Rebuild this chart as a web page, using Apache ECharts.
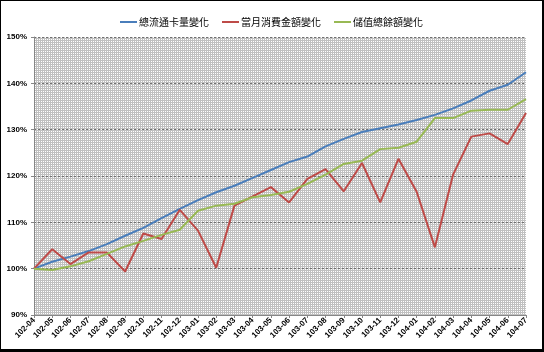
<!DOCTYPE html>
<html>
<head>
    <meta charset="UTF-8">
    <script src="https://cdn.jsdelivr.net/npm/echarts@6/dist/echarts.min.js"></script>
    <style>
        html, body { margin: 0; padding: 0; background: #fff; }
        #main {
            width: 544px; height: 352px; box-sizing: border-box;
            border-left: 1px solid #000; border-top: 1px solid #000;
            border-right: 2px solid #000; border-bottom: 3px solid #000;
        }
    </style>
</head>
<body>
<div id="main"></div>
<script type="text/javascript">
    var months = ['102-04', '102-05', '102-06', '102-07', '102-08', '102-09', '102-10', '102-11', '102-12',
        '103-01', '103-02', '103-03', '103-04', '103-05', '103-06', '103-07', '103-08', '103-09', '103-10',
        '103-11', '103-12', '104-01', '104-02', '104-03', '104-04', '104-05', '104-06', '104-07'];

    // 總流通卡量變化
    var cards = [100, 101.5, 102.6, 103.8, 105.3, 107.1, 108.8, 110.9, 112.9, 114.8, 116.5, 117.9, 119.6, 121.3,
        123.0, 124.2, 126.4, 128.0, 129.5, 130.3, 131.1, 132.1, 133.2, 134.6, 136.3, 138.4, 139.7, 142.4];
    // 當月消費金額變化
    var spending = [100, 104.2, 101.0, 103.5, 103.5, 99.4, 107.6, 106.4, 112.7, 108.2, 100.2, 113.6, 115.6, 117.6,
        114.3, 119.4, 121.5, 116.7, 122.8, 114.3, 123.7, 116.6, 104.6, 120.3, 128.5, 129.2, 126.9, 133.6];
    // 儲值總餘額變化
    var balance = [100, 99.7, 100.5, 101.6, 103.2, 104.8, 106.0, 107.3, 108.4, 112.5, 113.6, 114.0, 115.4, 115.9,
        116.6, 118.3, 120.3, 122.6, 123.3, 125.8, 126.1, 127.4, 132.5, 132.5, 134.1, 134.3, 134.3, 136.6];

    // dotted plot background
    var tile = document.createElement('canvas');
    tile.width = 2;
    tile.height = 2;
    var tctx = tile.getContext('2d');
    tctx.fillStyle = '#c0c0c0';
    tctx.fillRect(0, 0, 2, 2);
    tctx.fillStyle = '#ffffff';
    tctx.fillRect(0, 0, 1, 1);

    var myChart = echarts.init(document.getElementById('main'));

    var font = "'Noto Sans CJK TC', sans-serif";

    var option = {
        animation: false,
        legend: {
            top: 11,
            left: 'center',
            icon: 'rect',
            itemWidth: 17,
            itemHeight: 2,
            itemGap: 13,
            textStyle: {fontSize: 10, color: '#000', fontFamily: font, padding: [0, 0, 0, -3]},
            data: ['總流通卡量變化', '當月消費金額變化', '儲值總餘額變化']
        },
        grid: {
            left: 33,
            right: 16,
            top: 36,
            bottom: 34,
            show: true,
            borderWidth: 0,
            backgroundColor: {image: tile, repeat: 'repeat'}
        },
        xAxis: {
            type: 'category',
            boundaryGap: false,
            data: months,
            axisLine: {lineStyle: {color: '#868686', width: 1}},
            axisTick: {alignWithLabel: true, length: 3, lineStyle: {color: '#868686'}},
            axisLabel: {
                rotate: 45, fontSize: 8, color: '#000', margin: 4,
                fontFamily: "'Liberation Sans', Arial, sans-serif", fontWeight: 'bold'
            }
        },
        yAxis: {
            type: 'value',
            min: 90,
            max: 150,
            interval: 10,
            axisLine: {show: true, lineStyle: {color: '#868686'}},
            axisTick: {show: true, length: 3, lineStyle: {color: '#868686'}},
            axisLabel: {
                formatter: '{value}%', fontSize: 8, color: '#000', margin: 7,
                fontFamily: "'Liberation Sans', Arial, sans-serif", fontWeight: 'bold'
            },
            splitLine: {lineStyle: {color: '#707070', type: [2, 2], width: 1}}
        },
        series: [
            {
                name: '總流通卡量變化', type: 'line', data: cards, symbol: 'none',
                itemStyle: {color: '#4a7ebb'}, lineStyle: {color: '#4a7ebb', width: 2}
            },
            {
                name: '當月消費金額變化', type: 'line', data: spending, symbol: 'none',
                itemStyle: {color: '#be4b48'}, lineStyle: {color: '#be4b48', width: 2}
            },
            {
                name: '儲值總餘額變化', type: 'line', data: balance, symbol: 'none',
                itemStyle: {color: '#98b954'}, lineStyle: {color: '#98b954', width: 2}
            }
        ]
    };

    myChart.setOption(option);
</script>
</body>
</html>
